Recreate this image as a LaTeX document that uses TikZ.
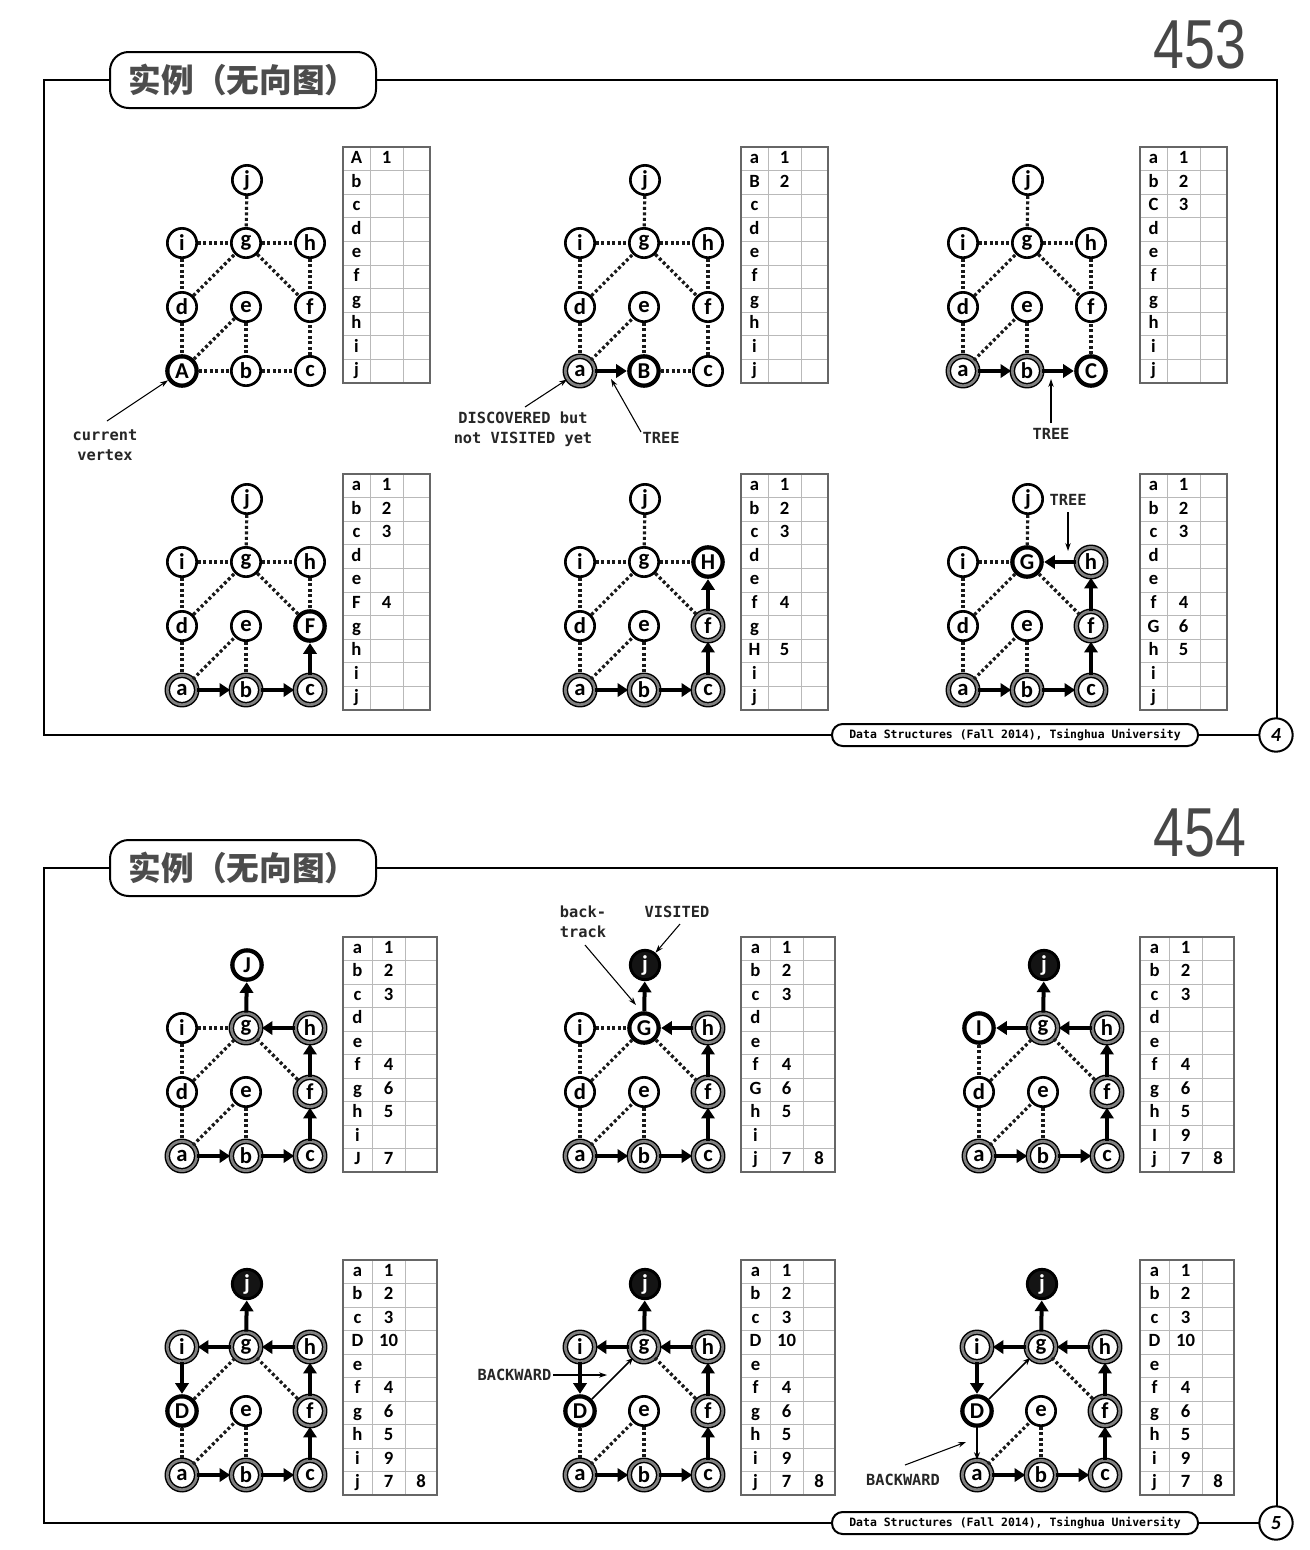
\documentclass[tikz,border=0pt]{standalone}
\usepackage{fontspec}
\setmainfont{Carlito}
\newfontfamily\cjkf{Noto Sans CJK SC}
\newfontfamily\monof{DejaVu Sans Mono}
\newfontfamily\arialf{Liberation Sans}
\usetikzlibrary{arrows.meta}

\newcommand\vfont{\bfseries\fontsize{17}{17}\selectfont}
\newcommand\tfont{\bfseries\fontsize{14}{14}\selectfont}
\newcommand\afont{\monof\bfseries\fontsize{11.5}{15.2}\selectfont}

\newcommand\setnode[3]{\expandafter\def\csname st#1\endcsname{#2}\expandafter\def\csname lb#1\endcsname{#3}}
\newcommand\resetnodes{\setnode{a}{plain}{a}\setnode{b}{plain}{b}\setnode{c}{plain}{c}\setnode{d}{plain}{d}\setnode{e}{plain}{e}\setnode{f}{plain}{f}\setnode{g}{plain}{g}\setnode{h}{plain}{h}\setnode{i}{plain}{i}\setnode{j}{plain}{j}}
\newcommand\gn[4]{\edef\tmpst{\csname st#2\endcsname}\edef\tmplb{\csname lb#2\endcsname}\node[vtx,\tmpst] (#1#2) at (#3,#4) {\tmplb};}
\newcommand\gnodes[3]{%
 \begin{scope}[shift={(#2,#3)}]
 \gn{#1}{a}{0}{0}\gn{#1}{b}{64}{0}\gn{#1}{c}{128}{0}
 \gn{#1}{d}{0}{-64}\gn{#1}{e}{64}{-64}\gn{#1}{f}{128}{-64}
 \gn{#1}{i}{0}{-128}\gn{#1}{g}{64}{-128}\gn{#1}{h}{128}{-128}
 \gn{#1}{j}{65}{-191}
 \end{scope}}
\newcommand\dotedges[2]{\foreach \u/\v in {#2} {\draw[dotE] (#1\u) -- (#1\v);}}
\newcommand\treeedges[2]{\foreach \u/\v in {#2} {\draw[treeE] (#1\u) -- (#1\v);}}
\newcommand\backedges[2]{\foreach \u/\v in {#2} {\draw[backE] (#1\u) -- (#1\v);}}
\newcommand\mytable[8]{%
 \foreach \cA/\cB/\cC [count=\k] in {#8} {
   \node[tcell] (#1-\k-l) at ({#2+#4/2},{#3+(\k-0.5)*#7/10}) {\cA};
   \node[tcell] (#1-\k-n) at ({#2+#4+#5/2},{#3+(\k-0.5)*#7/10}) {\cB};
   \node[tcell] (#1-\k-m) at ({#2+#4+#5+#6/2},{#3+(\k-0.5)*#7/10}) {\cC};
 }
 \foreach \k in {1,...,9} {\draw[tin] (#2,{#3+\k*#7/10}) -- ({#2+#4+#5+#6},{#3+\k*#7/10});}
 \draw[tin] ({#2+#4},#3) -- ({#2+#4},{#3+#7});
 \draw[tin] ({#2+#4+#5},#3) -- ({#2+#4+#5},{#3+#7});
 \draw[tout] (#2,#3) rectangle ({#2+#4+#5+#6},{#3+#7});
}

\tikzset{
 vtx/.style={circle, inner sep=0pt, minimum size=22pt, fill=white, font=\vfont},
 plain/.style={draw=black, line width=2pt},
 disc/.style={draw=black, line width=1.1pt, double=black!50, double distance=2pt},
 cur/.style={draw=black, line width=3.2pt},
 vis/.style={draw=black, line width=2.2pt, fill=black!92, text=white},
 dotE/.style={line width=2.4pt, dash pattern=on 2.2pt off 1.9pt, black!90},
 treeE/.style={line width=3pt, -{Triangle[length=8pt,width=10pt]}, shorten >=0.3pt},
 backE/.style={line width=1.1pt, -{Stealth[length=5.5pt,width=4.5pt]}},
 ann/.style={font=\afont, text=black!85, align=center, inner sep=1pt},
 annA/.style={line width=0.8pt, -{Stealth[length=6pt,width=4pt]}},
 tcell/.style={inner sep=0pt, text height=9.5pt, text depth=2.5pt, font=\tfont},
 tin/.style={gray!55, line width=0.6pt},
 tout/.style={black!60, line width=1pt},
 frame/.style={line width=1.5pt},
 titlebox/.style={draw, line width=1.5pt, rounded corners=14pt, fill=white, minimum width=199.5pt, minimum height=42pt, font=\cjkf\bfseries\fontsize{24.5}{24.5}\selectfont, text=black!70},
 footbox/.style={draw, line width=1.5pt, rounded corners=8pt, fill=white, minimum width=274.5pt, minimum height=16.5pt, inner sep=1pt, font=\monof\bfseries\fontsize{8.6}{9}\selectfont},
 pgnum/.style={font=\arialf\fontsize{52}{52}\selectfont, text=black!72, inner sep=0pt},
 circnum/.style={circle, draw, line width=1.5pt, minimum size=25pt, inner sep=0pt, fill=white, font=\bfseries\itshape\fontsize{15}{15}\selectfont},
}

\begin{document}
\begin{tikzpicture}[x=0.75pt,y=-0.75pt]
\useasboundingbox (0,0) rectangle (1310,1550);
\fill[white] (0,0) rectangle (1310,1550);

% ---------------- Slide 453 ----------------
\draw[frame] (44,80) rectangle (1277,735);
\node[titlebox] (title1) at (243,80) {实例（无向图）};
\node[pgnum] (pn1) at (1200,45) {\scalebox{0.8}[1]{453}};
\node[footbox] (foot1) at (1015,735) {Data Structures (Fall 2014), Tsinghua University};
\node[circnum] (cn1) at (1276,735) {4};

% panel 1
\resetnodes \setnode{a}{cur}{A}
\gnodes{P1}{182}{371}
\dotedges{P1}{j/g,i/g,g/h,i/d,d/g,g/f,h/f,d/a,a/e,e/b,a/b,b/c,c/f}
\mytable{T1}{343}{147}{27}{33}{27}{236}{A/1/{},b/{}/{},c/{}/{},d/{}/{},e/{}/{},f/{}/{},g/{}/{},h/{}/{},i/{}/{},j/{}/{}}
\node[ann] (an1) at (105,445) {current\\vertex};
\coordinate (an1s) at (107,421);
\draw[annA] (an1s) -- (P1a);

% panel 2
\resetnodes \setnode{a}{disc}{a}\setnode{b}{cur}{B}
\gnodes{P2}{580}{371}
\dotedges{P2}{j/g,i/g,g/h,i/d,d/g,g/f,h/f,d/a,a/e,e/b,b/c,c/f}
\treeedges{P2}{a/b}
\mytable{T2}{741}{147}{27}{33}{27}{236}{a/1/{},B/2/{},c/{}/{},d/{}/{},e/{}/{},f/{}/{},g/{}/{},h/{}/{},i/{}/{},j/{}/{}}
\node[ann] (an2) at (523,429) {DISCOVERED but\\not VISITED yet};
\coordinate (an2s) at (525,407);
\draw[annA] (an2s) -- (P2a);
\node[ann, anchor=west] (an3) at (641,438) {TREE};
\coordinate (an3s) at (641,432);
\coordinate (an3e) at (611,379);
\draw[annA] (an3s) -- (an3e);

% panel 3
\resetnodes \setnode{a}{disc}{a}\setnode{b}{disc}{b}\setnode{c}{cur}{C}
\gnodes{P3}{963}{371}
\dotedges{P3}{j/g,i/g,g/h,i/d,d/g,g/f,h/f,d/a,a/e,e/b,c/f}
\treeedges{P3}{a/b,b/c}
\mytable{T3}{1140}{147}{27}{33}{27}{236}{a/1/{},b/2/{},C/3/{},d/{}/{},e/{}/{},f/{}/{},g/{}/{},h/{}/{},i/{}/{},j/{}/{}}
\node[ann] (an4) at (1051,434) {TREE};
\coordinate (an4s) at (1051,423);
\coordinate (an4e) at (1051,379);
\draw[annA] (an4s) -- (an4e);

% panel 4
\resetnodes \setnode{a}{disc}{a}\setnode{b}{disc}{b}\setnode{c}{disc}{c}\setnode{f}{cur}{F}
\gnodes{P4}{182}{690}
\dotedges{P4}{j/g,i/g,g/h,i/d,d/g,g/f,h/f,d/a,a/e,e/b}
\treeedges{P4}{a/b,b/c,c/f}
\mytable{T4}{343}{474}{27}{33}{27}{236}{a/1/{},b/2/{},c/3/{},d/{}/{},e/{}/{},F/4/{},g/{}/{},h/{}/{},i/{}/{},j/{}/{}}

% panel 5
\resetnodes \setnode{a}{disc}{a}\setnode{b}{disc}{b}\setnode{c}{disc}{c}\setnode{f}{disc}{f}\setnode{h}{cur}{H}
\gnodes{P5}{580}{690}
\dotedges{P5}{j/g,i/g,g/h,i/d,d/g,g/f,d/a,a/e,e/b}
\treeedges{P5}{a/b,b/c,c/f,f/h}
\mytable{T5}{741}{474}{27}{33}{27}{236}{a/1/{},b/2/{},c/3/{},d/{}/{},e/{}/{},f/4/{},g/{}/{},H/5/{},i/{}/{},j/{}/{}}

% panel 6
\resetnodes \setnode{a}{disc}{a}\setnode{b}{disc}{b}\setnode{c}{disc}{c}\setnode{f}{disc}{f}\setnode{h}{disc}{h}\setnode{g}{cur}{G}
\gnodes{P6}{963}{690}
\dotedges{P6}{j/g,i/g,i/d,d/g,g/f,d/a,a/e,e/b}
\treeedges{P6}{a/b,b/c,c/f,f/h,h/g}
\mytable{T6}{1140}{474}{27}{33}{27}{236}{a/1/{},b/2/{},c/3/{},d/{}/{},e/{}/{},f/4/{},G/6/{},h/5/{},i/{}/{},j/{}/{}}
\node[ann, anchor=west] (an5) at (1048,500) {TREE};
\coordinate (an5s) at (1068,512);
\coordinate (an5e) at (1068,551);
\draw[annA] (an5s) -- (an5e);

% ---------------- Slide 454 ----------------
\draw[frame] (44,868) rectangle (1277,1523);
\node[titlebox] (title2) at (243,868) {实例（无向图）};
\node[pgnum] (pn2) at (1200,833) {\scalebox{0.8}[1]{454}};
\node[footbox] (foot2) at (1015,1523) {Data Structures (Fall 2014), Tsinghua University};
\node[circnum] (cn2) at (1276,1523) {5};

% panel 7
\resetnodes \setnode{a}{disc}{a}\setnode{b}{disc}{b}\setnode{c}{disc}{c}\setnode{f}{disc}{f}\setnode{h}{disc}{h}\setnode{g}{disc}{g}\setnode{j}{cur}{J}
\gnodes{P7}{182}{1156}
\dotedges{P7}{i/g,i/d,d/g,g/f,d/a,a/e,e/b}
\treeedges{P7}{a/b,b/c,c/f,f/h,h/g,g/j}
\mytable{T7}{343}{937}{29}{33}{32}{235}{a/1/{},b/2/{},c/3/{},d/{}/{},e/{}/{},f/4/{},g/6/{},h/5/{},i/{}/{},J/7/{}}

% panel 8
\resetnodes \setnode{a}{disc}{a}\setnode{b}{disc}{b}\setnode{c}{disc}{c}\setnode{f}{disc}{f}\setnode{h}{disc}{h}\setnode{g}{cur}{G}\setnode{j}{vis}{j}
\gnodes{P8}{580}{1156}
\dotedges{P8}{i/g,i/d,d/g,g/f,d/a,a/e,e/b}
\treeedges{P8}{a/b,b/c,c/f,f/h,h/g,g/j}
\mytable{T8}{741}{937}{29}{33}{32}{235}{a/1/{},b/2/{},c/3/{},d/{}/{},e/{}/{},f/4/{},G/6/{},h/5/{},i/{}/{},j/7/8}
\node[ann] (an6) at (583,922) {back-\\track};
\coordinate (an6s) at (585,945);
\coordinate (an6e) at (636,1005);
\draw[annA] (an6s) -- (an6e);
\node[ann] (an7) at (677,912) {VISITED};
\coordinate (an7s) at (680,924);
\draw[annA] (an7s) -- (P8j);

% panel 9
\resetnodes \setnode{a}{disc}{a}\setnode{b}{disc}{b}\setnode{c}{disc}{c}\setnode{f}{disc}{f}\setnode{h}{disc}{h}\setnode{g}{disc}{g}\setnode{j}{vis}{j}\setnode{i}{cur}{I}
\gnodes{P9}{979}{1156}
\dotedges{P9}{i/d,d/g,g/f,d/a,a/e,e/b}
\treeedges{P9}{a/b,b/c,c/f,f/h,h/g,g/j,g/i}
\mytable{T9}{1140}{937}{29}{33}{32}{235}{a/1/{},b/2/{},c/3/{},d/{}/{},e/{}/{},f/4/{},g/6/{},h/5/{},I/9/{},j/7/8}

% panel 10
\resetnodes \setnode{a}{disc}{a}\setnode{b}{disc}{b}\setnode{c}{disc}{c}\setnode{f}{disc}{f}\setnode{h}{disc}{h}\setnode{g}{disc}{g}\setnode{j}{vis}{j}\setnode{i}{disc}{i}\setnode{d}{cur}{D}
\gnodes{P10}{182}{1475}
\dotedges{P10}{d/g,g/f,d/a,a/e,e/b}
\treeedges{P10}{a/b,b/c,c/f,f/h,h/g,g/j,g/i,i/d}
\mytable{T10}{343}{1260}{29}{33}{32}{235}{a/1/{},b/2/{},c/3/{},D/10/{},e/{}/{},f/4/{},g/6/{},h/5/{},i/9/{},j/7/8}

% panel 11
\gnodes{P11}{580}{1475}
\dotedges{P11}{g/f,d/a,a/e,e/b}
\treeedges{P11}{a/b,b/c,c/f,f/h,h/g,g/j,g/i,i/d}
\backedges{P11}{d/g}
\mytable{T11}{741}{1260}{29}{33}{32}{235}{a/1/{},b/2/{},c/3/{},D/10/{},e/{}/{},f/4/{},g/6/{},h/5/{},i/9/{},j/7/8}
\node[ann, anchor=east] (an8) at (553,1375) {BACKWARD};
\coordinate (an8e) at (607,1375);
\draw[annA] (an8.east) -- (an8e);

% panel 12
\gnodes{P12}{977}{1475}
\dotedges{P12}{g/f,a/e,e/b}
\treeedges{P12}{a/b,b/c,c/f,f/h,h/g,g/j,g/i,i/d}
\backedges{P12}{d/g,d/a}
\mytable{T12}{1140}{1260}{29}{33}{32}{235}{a/1/{},b/2/{},c/3/{},D/10/{},e/{}/{},f/4/{},g/6/{},h/5/{},i/9/{},j/7/8}
\node[ann] (an9) at (903,1480) {BACKWARD};
\coordinate (an9s) at (905,1465);
\coordinate (an9e) at (966,1442);
\draw[annA] (an9s) -- (an9e);

\end{tikzpicture}
\end{document}
